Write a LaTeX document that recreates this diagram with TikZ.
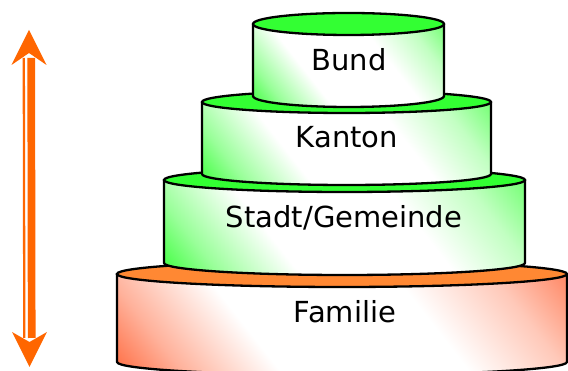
\documentclass[tikz,border=0pt]{standalone}
\usepackage{fontspec}
\setmainfont{DejaVu Sans}
\definecolor{tiergreen}{RGB}{51,255,51}
\definecolor{tierorange}{RGB}{255,136,51}
\definecolor{tierred}{RGB}{255,100,55}
\definecolor{arrowc}{RGB}{255,102,0}
\pgfdeclarehorizontalshading{greenside}{100bp}{color(0bp)=(tiergreen); color(14bp)=(tiergreen); color(24bp)=(tiergreen!50!white); color(37bp)=(white); color(62bp)=(white); color(75bp)=(tiergreen!30!white); color(88bp)=(tiergreen!80!white); color(100bp)=(tiergreen!80!white)}
\pgfdeclarehorizontalshading{redside}{100bp}{color(0bp)=(tierred); color(14bp)=(tierred); color(24bp)=(tierred!50!white); color(37bp)=(white); color(62bp)=(white); color(75bp)=(tierred!35!white); color(88bp)=(tierred!90!white); color(100bp)=(tierred!90!white)}
% one tier of the cake: #1 centre x, #2 half width, #3 top y, #4 bottom y (from the top edge),
% #5 half height of the ellipses, #6 side shading, #7 colour of the top face
\newcommand\tierdraw[7]{%
  \path[shade, shading=#6, shading angle=38, draw=black, line width=2.3pt, line join=round]
    (#1-#2,371-#3) -- (#1-#2,371-#4)
    arc[start angle=180, end angle=360, x radius=#2, y radius=#5]
    -- (#1+#2,371-#3) -- cycle;
  \path[fill=#7, draw=black, line width=2.3pt] (#1,371-#3) ellipse[x radius=#2, y radius=#5];
}
\begin{document}
\begin{tikzpicture}[x=1pt,y=1pt,
  label/.style={font=\fontsize{29}{35}\selectfont, text=black, anchor=base, inner sep=0pt}]
\useasboundingbox (0,0) rectangle (568,371);

% tiers, bottom to top
\tierdraw{342}{225}{274}{362}{13}{redside}{tierorange}
\tierdraw{344.5}{180.5}{180}{263}{12}{greenside}{tiergreen}
\tierdraw{346.5}{144.5}{102}{174}{11}{greenside}{tiergreen}
\tierdraw{348.5}{95.5}{24}{96}{11}{greenside}{tiergreen}

\node[label] (familie) at (345,371-323) {Familie};
\node[label] (stadt) at (344,371-228) {Stadt/Gemeinde};
\node[label] (kanton) at (347,371-147.5) {Kanton};
\node[label] (bund) at (349,371-71) {Bund};

% double-headed arrow with a thin-thick shaft
\coordinate (atop) at (29,371-58);
\coordinate (abot) at (29.5,371-338);
\draw[arrowc, line width=7.7pt] ([xshift=2.2pt]atop) -- ([xshift=2.2pt]abot);
\draw[arrowc, line width=2.3pt] ([xshift=-5.2pt]atop) -- ([xshift=-5.2pt]abot);
\fill[arrowc] (atop) ++(0,28) -- ++(-17.5,-35) -- ++(17.5,12) -- ++(17.5,-12) -- cycle;
\fill[arrowc] (abot) ++(0,-29) -- ++(-17.5,35) -- ++(17.5,-10) -- ++(17.5,10) -- cycle;
\end{tikzpicture}
\end{document}
